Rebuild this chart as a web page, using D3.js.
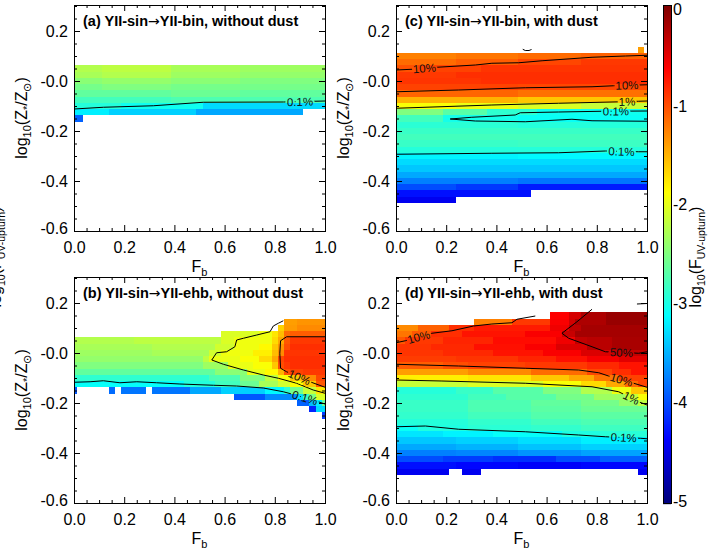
<!DOCTYPE html>
<html>
<head>
<meta charset="utf-8">
<script src="https://cdn.jsdelivr.net/npm/d3@7"></script>
<style>
  body { margin: 0; background: #fff; }
</style>
</head>
<body>
<svg id="fig" width="723" height="554"></svg>
<script>
// F_b grid (cell centres) and metallicity rows log10(Z*/Zsun) (cell centres)
const fbCols = [0, 0.025, 0.05, 0.075, 0.1, 0.125, 0.15, 0.175, 0.2, 0.225, 0.25, 0.275, 0.3, 0.325,
  0.35, 0.375, 0.4, 0.425, 0.45, 0.475, 0.5, 0.525, 0.55, 0.575, 0.6, 0.625, 0.65, 0.675, 0.7,
  0.725, 0.75, 0.775, 0.8, 0.825, 0.85, 0.875, 0.9, 0.925, 0.95, 0.975, 1];
const metalRows = [0.15, 0.125, 0.1, 0.075, 0.05, 0.025, 0, -0.025, -0.05, -0.075, -0.1, -0.125,
  -0.15, -0.175, -0.2, -0.225, -0.25, -0.275, -0.3, -0.325, -0.35, -0.375, -0.4, -0.425, -0.45, -0.475];

// log10(F_UV-upturn) per row, run-length: "value*count", "." = no model
const gridA = [
  "", "", "", "",
  "-2.25*5 -2.2*11 -2.3*11 -2.35*14",
  "-2.3*5 -2.25*11 -2.35*11 -2.4*14",
  "-2.45*5 -2.4*11 -2.45*11 -2.5*14",
  "-2.55*5 -2.5*11 -2.55*25",
  "-2.65*16 -2.6*11 -2.65*14",
  "-2.8*16 -2.75*25",
  "-2.95*8 -3.05*13 -3.3*20",
  "-3.2*6 -3.35*14 -3.55*17",
  "-3.9*2",
  "", "", "", "", "", "", "", "", "", "", "", "", ""
];
const gridB = [
  "",
  ".*34 -1.4*2 -1.35*5",
  ".*33 -1.65 -1.38*2 -1.3*5",
  ".*24 -2.05*6 -1.95*2 -1.75 -1.55 -1.15 -1.08*6",
  "-2.25*10 -2.2*14 -2.05*2 -1.95*6 -1.7 -1.45 -1.05 -0.9*6",
  "-2.3*13 -2.25*10 -2.1*3 -1.95*4 -1.85*2 -1.6 -1.35 -1.0 -0.85*6",
  "-2.35*13 -2.3*9 -2.1*2 -1.95*5 -1.8*3 -1.55 -1.3 -0.88*7",
  "-2.4*21 -2.2 -1.98*5 -1.9*3 -1.7*2 -1.45 -0.98 -0.85*7",
  "-2.5*21 -2.35*4 -1.98*4 -1.9*3 -1.6 -1.0 -0.9 -0.85*6",
  "-2.65*23 -2.45*5 -1.98*3 -1.85*2 -1.5 -1.02 -0.95*2 -0.9*4",
  "-2.9*22 -2.75*5 -2.5*4 -2.2*2 -1.9*2 -1.6*2 -1.3*2 -0.98*2",
  "-3.1*18 -2.95*5 -2.8*4 -2.6*3 -2.3*3 -2.1*2 -1.9*2 -1.6*2 -1.05*2",
  "-3.95 .*5 -3.85 . -3.8*4 . -3.8*6 -3.55*5 -3.35*7 -3.15*3 -2.9 -2.55*2 -2.15*2 -1.75*2",
  ".*26 -3.95*5 -3.7*5 -3.3 -2.85 -2.5 -2.05*2",
  ".*36 -3.9*2 -3.45 -3.2 -2.6",
  ".*38 -4.2 -3.3*2",
  ".*40 -4.1",
  "", "", "", "", "", "", "", "", ""
];
const gridC = [
  "",
  ".*39 -1.4",
  "-1.25*10 -1.2*10 -1.15*10 -1.1*11",
  "-1.15*10 -1.08*10 -0.97*10 -0.9*11",
  "-1.02*4 -0.95*10 -0.88*27",
  "-0.9*10 -0.85*31",
  "-0.88*14 -0.85*27",
  "-0.95*20 -0.97*21",
  "-1.12*20 -1.18*21",
  "-1.5*20 -1.6*21",
  "-1.9*10 -1.97*10 -2.05*10 -2.15*11",
  "-2.5*8 -2.7*7 -2.9*8 -3.05*18",
  "-2.8*8 -3.02*12 -3.08*21",
  "-2.92*20 -2.95*21",
  "-2.85*41",
  "-2.8*41",
  "-2.85*20 -2.83*21",
  "-2.95*41",
  "-3.18*20 -3.15*21",
  "-3.3*41",
  "-3.4*41",
  "-3.55*41",
  "-3.75*20 -3.8*21",
  "-4.0*10 -4.1*10 -4.25*21",
  "-4.3*22",
  "-4.45*10"
];
const gridD = [
  ".*25 -0.62*3 -0.42*2 -0.22*4 -0.12*7",
  ".*13 -1.25*6 -0.9*6 -0.6*3 -0.4 -0.22*5 -0.12*7",
  "-1.3*4 -1.1*5 -0.85*4 -0.75*12 -0.55*3 -0.3*2 -0.18*11",
  "-1.2*3 -1.05*3 -0.85*5 -0.72*10 -0.6*6 -0.35*2 -0.18*12",
  "-1.05*2 -0.9*6 -0.8*8 -0.68*10 -0.55*3 -0.32*2 -0.28*4 -0.2*6",
  "-0.88*6 -0.82*7 -0.7*8 -0.6*5 -0.45*5 -0.28*4 -0.2*6",
  "-0.88*8 -0.82*8 -0.72*8 -0.6*6 -0.45*5 -0.33*6",
  "-0.92*10 -0.88*10 -0.8*6 -0.7*5 -0.58*5 -0.48*5",
  "-1.08*8 -1.0*4 -0.95*9 -0.9*10 -0.82*5 -0.72*5",
  "-1.4*12 -1.3*10 -1.15*9 -0.97*4 -0.85*3 -0.72*3",
  "-1.8*12 -1.75*10 -1.6*6 -1.45*4 -1.2*4 -0.95*5",
  "-2.15*12 -2.05*12 -1.9*6 -1.7*4 -1.45*3 -1.15*2 -0.95*2",
  "-2.95*10 -2.85*6 -2.7*8 -2.5*6 -2.25*5 -1.95*3 -1.6*3",
  "-2.9*12 -2.8*6 -2.7*8 -2.55*6 -2.35*5 -2.15*2 -1.9*2",
  "-2.85*12 -2.75*10 -2.65*8 -2.55*6 -2.4*3 -2.2*2",
  "-2.85*12 -2.75*10 -2.68*8 -2.6*11",
  "-2.88*12 -2.8*10 -2.72*8 -2.68*11",
  "-2.95*12 -2.88*10 -2.8*8 -2.75*11",
  "-3.08*4 -2.98*8 -2.92*10 -2.88*8 -2.82*11",
  "-3.25*8 -3.18*8 -3.1*11 -2.98*6 -2.93*8",
  "-3.4*10 -3.35*10 -3.28*10 -3.2*11",
  "-3.55*10 -3.5*10 -3.42*10 -3.35*11",
  "-3.75*10 -3.72*10 -3.65*10 -3.58*11",
  "-4.0*8 -4.08*8 -4.15*10 -4.0*7 -3.9*8",
  "-4.3*10 -4.35*10 -4.4*10 -4.35*11",
  "-4.45*9 .*2 -4.45*3 .*25 -4.45*2"
];

// contour lines: [F_b, log Z] points, label position on the line
const contoursA = [
  {text: "0.1%", at: [0.9, -0.083], pts: [[0, -0.112], [0.117, -0.105], [0.316, -0.099], [0.515, -0.085], [0.834, -0.084], [1, -0.08]]}
];
const contoursB = [
  {text: "0.1%", at: [0.92, -0.179], pts: [[0, -0.117], [0.064, -0.115], [0.117, -0.111], [0.183, -0.119], [0.25, -0.115], [0.329, -0.119], [0.422, -0.124], [0.555, -0.129], [0.648, -0.132], [0.754, -0.14], [0.834, -0.155], [0.867, -0.164], [0.973, -0.195], [1, -0.204]]},
  {text: "", at: null, pts: [[0.834, 0.129], [0.814, 0.119], [0.794, 0.108], [0.781, 0.085], [0.728, 0.072], [0.675, 0.059], [0.648, 0.052], [0.641, 0.025], [0.608, 0.005], [0.568, 0.001], [0.549, -0.028], [0.595, -0.045], [0.675, -0.068], [0.754, -0.088], [0.814, -0.101], [0.887, -0.121], [0.953, -0.148], [1, -0.161]]},
  {text: "10%", at: [0.898, -0.097], pts: [[1, 0.065], [0.847, 0.065], [0.823, 0.049], [0.82, -0.001], [0.823, -0.061], [0.847, -0.075], [0.94, -0.115], [1, -0.137]]}
];
const contoursC = [
  {text: "10%", at: [0.113, 0.051], pts: [[0, 0.044], [0.064, 0.047], [0.163, 0.055], [0.316, 0.064], [0.382, 0.071], [0.489, 0.073], [0.582, 0.081], [0.781, 0.095], [0.914, 0.1], [1, 0.103]]},
  {text: "10%", at: [0.92, -0.017], pts: [[0, -0.043], [0.25, -0.036], [0.515, -0.027], [0.781, -0.023], [0.867, -0.019], [1, -0.015]]},
  {text: "1%", at: [0.92, -0.082], pts: [[0, -0.109], [0.382, -0.096], [0.648, -0.089], [0.901, -0.083], [0.967, -0.081], [1, -0.08]]},
  {text: "0.1%", at: [0.876, -0.121], pts: [[1, -0.161], [0.781, -0.159], [0.701, -0.153], [0.515, -0.163], [0.316, -0.16], [0.216, -0.152], [0.302, -0.145], [0.475, -0.136], [0.495, -0.127], [0.648, -0.124], [0.821, -0.121], [1, -0.12]]},
  {text: "0.1%", at: [0.898, -0.282], pts: [[0, -0.293], [0.382, -0.289], [0.648, -0.287], [0.834, -0.28], [0.967, -0.283], [1, -0.283]]},
  {text: "", at: null, pts: [[0.505, 0.127], [0.515, 0.122], [0.53, 0.122], [0.54, 0.126]]}
];
const contoursD = [
  {text: "10%", at: [0.09, 0.064], pts: [[0, 0.041], [0.037, 0.049], [0.143, 0.079], [0.223, 0.089], [0.309, 0.108], [0.382, 0.116], [0.462, 0.121], [0.482, 0.135], [0.555, 0.148]]},
  {text: "50%", at: [0.898, 0.002], pts: [[0.781, 0.175], [0.721, 0.125], [0.661, 0.079], [0.688, 0.059], [0.781, 0.025], [0.834, 0.005], [0.967, -0.001], [1, 0.005]]},
  {text: "10%", at: [0.898, -0.107], pts: [[0, -0.045], [0.25, -0.052], [0.515, -0.061], [0.728, -0.068], [0.808, -0.079], [0.847, -0.092], [0.947, -0.121], [1, -0.137]]},
  {text: "1%", at: [0.937, -0.18], pts: [[0, -0.108], [0.183, -0.112], [0.515, -0.121], [0.781, -0.135], [0.887, -0.155], [0.967, -0.195], [1, -0.208]]},
  {text: "0.1%", at: [0.907, -0.338], pts: [[0, -0.295], [0.117, -0.292], [0.25, -0.305], [0.515, -0.315], [0.728, -0.328], [0.834, -0.335], [0.973, -0.341], [1, -0.343]]},
  {text: "", at: null, pts: [[0.96, 0.196], [1, 0.198]]}
];

const titles = ["(a) YII-sin\u2192YII-bin, without dust", "(b) YII-sin\u2192YII-ehb, without dust",
  "(c) YII-sin\u2192YII-bin, with dust", "(d) YII-sin\u2192YII-ehb, with dust"];
const xTicks = [0, 0.2, 0.4, 0.6, 0.8, 1.0];
const yTicks = [0.2, 0, -0.2, -0.4, -0.6];
const yTickLabels = ["0.2", "-0.0", "-0.2", "-0.4", "-0.6"];
const colorTicks = [0, -1, -2, -3, -4, -5];

const font = '"Liberation Sans", Arial, Helvetica, sans-serif';
const svg = d3.select("#fig");
const defs = svg.append("defs");

// jet colour table
const jet = d3.scaleLinear()
  .domain([-5, -4.375, -3.125, -1.875, -0.625, 0])
  .range(["#000080", "#0000ff", "#00ffff", "#ffff00", "#ff0000", "#800000"])
  .clamp(true);

const plotW = 251;
const panels = [
  {grid: gridA, lines: contoursA, title: titles[0], left: 74, top: 5, bottom: 231},
  {grid: gridC, lines: contoursC, title: titles[2], left: 396, top: 5, bottom: 231},
  {grid: gridB, lines: contoursB, title: titles[1], left: 74, top: 277, bottom: 503},
  {grid: gridD, lines: contoursD, title: titles[3], left: 396, top: 277, bottom: 503}
];

function parseRow(s) {
  let out = [];
  s.trim().split(/\s+/).filter(t => t.length).forEach(tok => {
    let parts = tok.split("*");
    let n = parts.length > 1 ? +parts[1] : 1;
    for (let k = 0; k < n; k++) out.push(parts[0] === "." ? null : +parts[0]);
  });
  while (out.length < fbCols.length) out.push(null);
  return out;
}

function richText(sel, parts, big, small, shift) {
  parts.forEach((p, k) => {
    let t = sel.append("tspan").text(p[0]).attr("font-size", p[1] ? small : big);
    let prevSub = k > 0 && parts[k - 1][1];
    if (p[1] && !prevSub) t.attr("dy", shift);
    if (!p[1] && prevSub) t.attr("dy", -shift);
  });
}

const zLabel = [["log", 0], ["10", 1], ["(Z", 0], ["*", 1], ["/Z", 0], ["\u2299", 1], [")", 0]];
const fLabel = [["log", 0], ["10", 1], ["(F", 0], ["UV-upturn", 1], [")", 0]];

panels.forEach((p, i) => drawPanel(p, i));

function drawPanel(p, i) {
  let x = d3.scaleLinear().domain([0, 1]).range([p.left, p.left + plotW]);
  let y = d3.scaleLinear().domain([-0.6, 0.304]).range([p.bottom, p.top]);
  let g = svg.append("g");

  defs.append("clipPath").attr("id", "clip" + i)
    .append("rect")
    .attr("x", p.left).attr("y", p.top)
    .attr("width", plotW).attr("height", p.bottom - p.top);

  let cells = [];
  p.grid.forEach((row, r) => {
    parseRow(row).forEach((v, c) => {
      if (v !== null) cells.push({fb: fbCols[c], z: metalRows[r], v: v});
    });
  });

  let half = 0.0125;
  g.append("g").attr("clip-path", "url(#clip" + i + ")")
    .selectAll("rect")
    .data(cells)
    .enter()
    .append("rect")
    .attr("x", d => x(d.fb - half))
    .attr("y", d => y(d.z + half))
    .attr("width", d => x(d.fb + half) - x(d.fb - half))
    .attr("height", d => y(d.z - half) - y(d.z + half))
    .attr("fill", d => jet(d.v))
    .attr("shape-rendering", "crispEdges");

  // contour labels follow the local direction of the line
  let labels = p.lines.filter(l => l.at).map(l => {
    let px = x(l.at[0]), py = y(l.at[1]);
    let best = 0, bestD = Infinity;
    for (let k = 0; k < l.pts.length - 1; k++) {
      let ax = x(l.pts[k][0]), ay = y(l.pts[k][1]), bx = x(l.pts[k + 1][0]), by = y(l.pts[k + 1][1]);
      let dx = bx - ax, dy = by - ay;
      let t = Math.max(0, Math.min(1, ((px - ax) * dx + (py - ay) * dy) / (dx * dx + dy * dy)));
      let d = Math.hypot(ax + t * dx - px, ay + t * dy - py);
      if (d < bestD) { bestD = d; best = Math.atan2(dy, dx) * 180 / Math.PI; }
    }
    if (best > 90) best -= 180;
    if (best < -90) best += 180;
    return {text: l.text, x: px, y: py, angle: best};
  });

  let mask = defs.append("mask").attr("id", "mask" + i)
    .attr("maskUnits", "userSpaceOnUse")
    .attr("x", 0).attr("y", 0).attr("width", 723).attr("height", 554);
  mask.append("rect").attr("width", 723).attr("height", 554).attr("fill", "white");
  mask.selectAll("text")
    .data(labels)
    .enter()
    .append("text")
    .attr("transform", d => `translate(${d.x},${d.y}) rotate(${d.angle})`)
    .attr("text-anchor", "middle")
    .attr("dy", "0.36em")
    .attr("font-family", font)
    .attr("font-size", 11.5)
    .attr("fill", "black")
    .attr("stroke", "black")
    .attr("stroke-width", 4)
    .text(d => d.text);

  let line = d3.line().x(d => x(d[0])).y(d => y(d[1]));
  g.append("g").attr("clip-path", "url(#clip" + i + ")")
    .append("g").attr("mask", "url(#mask" + i + ")")
    .selectAll("path")
    .data(p.lines)
    .enter()
    .append("path")
    .attr("d", d => line(d.pts))
    .attr("fill", "none")
    .attr("stroke", "#000")
    .attr("stroke-width", 1);

  g.append("g").selectAll("text")
    .data(labels)
    .enter()
    .append("text")
    .attr("transform", d => `translate(${d.x},${d.y}) rotate(${d.angle})`)
    .attr("text-anchor", "middle")
    .attr("dy", "0.36em")
    .attr("font-family", font)
    .attr("font-size", 11.5)
    .attr("fill", "#111")
    .text(d => d.text);

  drawAxes(g, x, y, p);

  // panel title, arrow taken from DejaVu for a full-width glyph
  let tt = g.append("text")
    .attr("x", p.left + 9)
    .attr("y", p.top + 20.5)
    .attr("font-family", font)
    .attr("font-size", 14.5)
    .attr("font-weight", "bold");
  let bits = p.title.split("\u2192");
  tt.append("tspan").text(bits[0]);
  tt.append("tspan").text("\u2192")
    .attr("font-family", "DejaVu Sans")
    .attr("font-weight", "normal")
    .attr("font-size", 14);
  tt.append("tspan").text(bits[1]);

  let fb = g.append("text")
    .attr("x", p.left + plotW / 2)
    .attr("y", p.bottom + 41)
    .attr("text-anchor", "middle")
    .attr("font-family", font);
  richText(fb, [["F", 0], ["b", 1]], 16, 11, 4);

  let yl = g.append("text")
    .attr("transform", `translate(${p.left - 47},${(p.top + p.bottom) / 2}) rotate(-90)`)
    .attr("text-anchor", "middle")
    .attr("font-family", font);
  richText(yl, zLabel, 16, 11, 4);
}

function drawAxes(g, x, y, p) {
  let xMinor = d3.range(0, 1.0001, 0.05).filter(v => !xTicks.some(t => Math.abs(t - v) < 1e-6));
  let yMinor = d3.range(-0.6, 0.3001, 0.05).filter(v => !yTicks.some(t => Math.abs(t - v) < 1e-6));
  let clean = s => s.select(".domain").remove();
  let right = p.left + plotW;

  g.append("g").attr("transform", `translate(0,${p.bottom})`)
    .call(d3.axisBottom(x).tickValues(xTicks).tickSizeInner(-6).tickSizeOuter(0).tickPadding(11).tickFormat(d3.format(".1f")))
    .call(clean)
    .attr("font-size", 16).attr("font-family", font);
  g.append("g").attr("transform", `translate(0,${p.bottom})`)
    .call(d3.axisBottom(x).tickValues(xMinor).tickSizeInner(-3).tickSizeOuter(0).tickFormat(""))
    .call(clean);
  g.append("g").attr("transform", `translate(0,${p.top})`)
    .call(d3.axisTop(x).tickValues(xTicks).tickSizeInner(-6).tickSizeOuter(0).tickFormat(""))
    .call(clean);
  g.append("g").attr("transform", `translate(0,${p.top})`)
    .call(d3.axisTop(x).tickValues(xMinor).tickSizeInner(-3).tickSizeOuter(0).tickFormat(""))
    .call(clean);

  let yl = g.append("g").attr("transform", `translate(${p.left},0)`)
    .call(d3.axisLeft(y).tickValues(yTicks).tickSizeInner(-6).tickSizeOuter(0).tickPadding(6).tickFormat((d, k) => yTickLabels[k]))
    .call(clean)
    .attr("font-size", 16).attr("font-family", font);
  yl.selectAll("text").filter(d => d === -0.6).attr("y", -3);
  g.append("g").attr("transform", `translate(${p.left},0)`)
    .call(d3.axisLeft(y).tickValues(yMinor).tickSizeInner(-3).tickSizeOuter(0).tickFormat(""))
    .call(clean);
  g.append("g").attr("transform", `translate(${right},0)`)
    .call(d3.axisRight(y).tickValues(yTicks).tickSizeInner(-6).tickSizeOuter(0).tickFormat(""))
    .call(clean);
  g.append("g").attr("transform", `translate(${right},0)`)
    .call(d3.axisRight(y).tickValues(yMinor).tickSizeInner(-3).tickSizeOuter(0).tickFormat(""))
    .call(clean);

  g.append("rect")
    .attr("x", p.left + 0.5).attr("y", p.top + 0.5)
    .attr("width", plotW).attr("height", p.bottom - p.top)
    .attr("fill", "none").attr("stroke", "#000").attr("stroke-width", 1);
}

// colour bar
const cbX = 663, cbW = 8;
const cbScale = d3.scaleLinear().domain([0, -5]).range([7, 501]);
const cb = svg.append("g");
cb.selectAll("rect.strip")
  .data(d3.range(5, 504))
  .enter()
  .append("rect")
  .attr("class", "strip")
  .attr("x", cbX).attr("y", d => d)
  .attr("width", cbW).attr("height", 1.2)
  .attr("fill", d => jet(cbScale.invert(d + 0.5)));
cb.append("rect")
  .attr("x", cbX + 0.5).attr("y", 5.5)
  .attr("width", cbW).attr("height", 498)
  .attr("fill", "none").attr("stroke", "#000");
cb.selectAll("text.tick")
  .data(colorTicks)
  .enter()
  .append("text")
  .attr("class", "tick")
  .attr("x", 673)
  .attr("y", d => cbScale(d) + (d === 0 ? 2 : 0))
  .attr("dy", "0.36em")
  .attr("font-family", font)
  .attr("font-size", 16)
  .text(d => String(d));

let cbl = cb.append("text")
  .attr("transform", "translate(701,257) rotate(-90)")
  .attr("text-anchor", "middle")
  .attr("font-family", font);
richText(cbl, fLabel, 16, 10.5, 4);

// clipped colour-bar title of the neighbouring figure at the left edge
let edge = svg.append("text")
  .attr("transform", "translate(1,257) rotate(-90)")
  .attr("text-anchor", "middle")
  .attr("font-family", font);
richText(edge, fLabel, 16, 10.5, 4);
</script>
</body>
</html>
